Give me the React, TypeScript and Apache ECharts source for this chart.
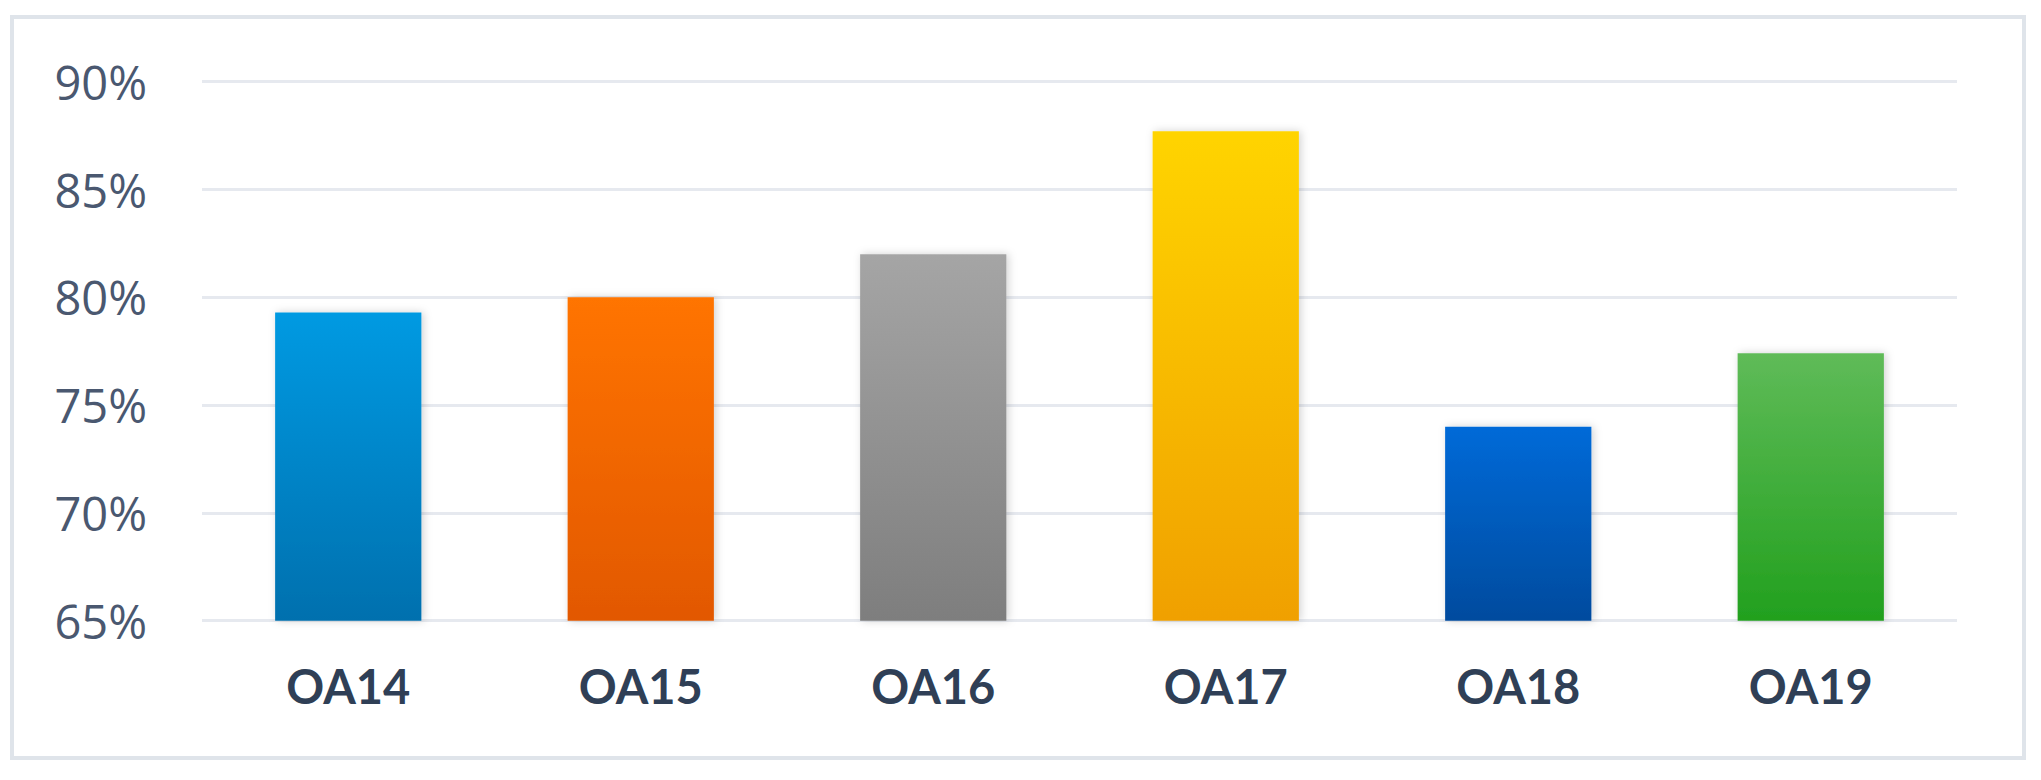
import React, { useEffect, useRef } from "react";
import * as echarts from "echarts";

const categories = ["OA14", "OA15", "OA16", "OA17", "OA18", "OA19"];
const values = [79.3, 80.0, 82.0, 87.7, 74.0, 77.4];
const topColors = ["#009ae2", "#ff7402", "#a5a5a5", "#ffd400", "#006ad8", "#5fbb58"];
const bottomColors = ["#0070ae", "#e25800", "#7e7e7e", "#f0a000", "#004b9e", "#22a01e"];
const yTicks = { min: 65, max: 90, interval: 5 };

export default function App() {
  const ref = useRef<HTMLDivElement>(null);
  useEffect(() => {
    if (!ref.current) return;
    const chart = echarts.init(ref.current, null, { renderer: "svg" });
    chart.setOption({
      animation: false,
      backgroundColor: "#ffffff",
      grid: { left: 202, right: 84, top: 81.7, bottom: 159.3, containLabel: false },
      graphic: [
        {
          type: "rect",
          shape: { x: 12, y: 17, width: 2012, height: 741 },
          style: { fill: "none", stroke: "#dfe4ea", lineWidth: 4 },
          silent: true,
        },
      ],
      xAxis: {
        type: "category",
        data: categories,
        axisLine: { show: false },
        axisTick: { show: false },
        axisLabel: {
          margin: 42,
          fontSize: 47,
          fontWeight: "bold",
          fontFamily: "Lato",
          color: "#2f3f56",
        },
      },
      yAxis: {
        type: "value",
        min: yTicks.min,
        max: yTicks.max,
        interval: yTicks.interval,
        axisLine: { show: false },
        axisTick: { show: false },
        splitLine: { lineStyle: { color: "#e6e9ef", width: 3 } },
        axisLabel: {
          margin: 55,
          fontSize: 47,
          fontFamily: "Open Sans",
          color: "#4a5870",
          formatter: "{value}%",
        },
      },
      series: [
        {
          type: "bar",
          barCategoryGap: "50%",
          data: values.map((v, i) => ({
            value: v,
            itemStyle: {
              color: new echarts.graphic.LinearGradient(0, 0, 0, 1, [
                { offset: 0, color: topColors[i] },
                { offset: 1, color: bottomColors[i] },
              ]),
              shadowBlur: 8,
              shadowColor: "rgba(0,0,0,0.18)",
              shadowOffsetX: 2,
              shadowOffsetY: 0,
            },
          })),
        },
      ],
    });
    return () => chart.dispose();
  }, []);
  return (
    <div
      ref={ref}
      style={{ position: "absolute", left: 0, top: 0, width: 2041, height: 780 }}
    />
  );
}
